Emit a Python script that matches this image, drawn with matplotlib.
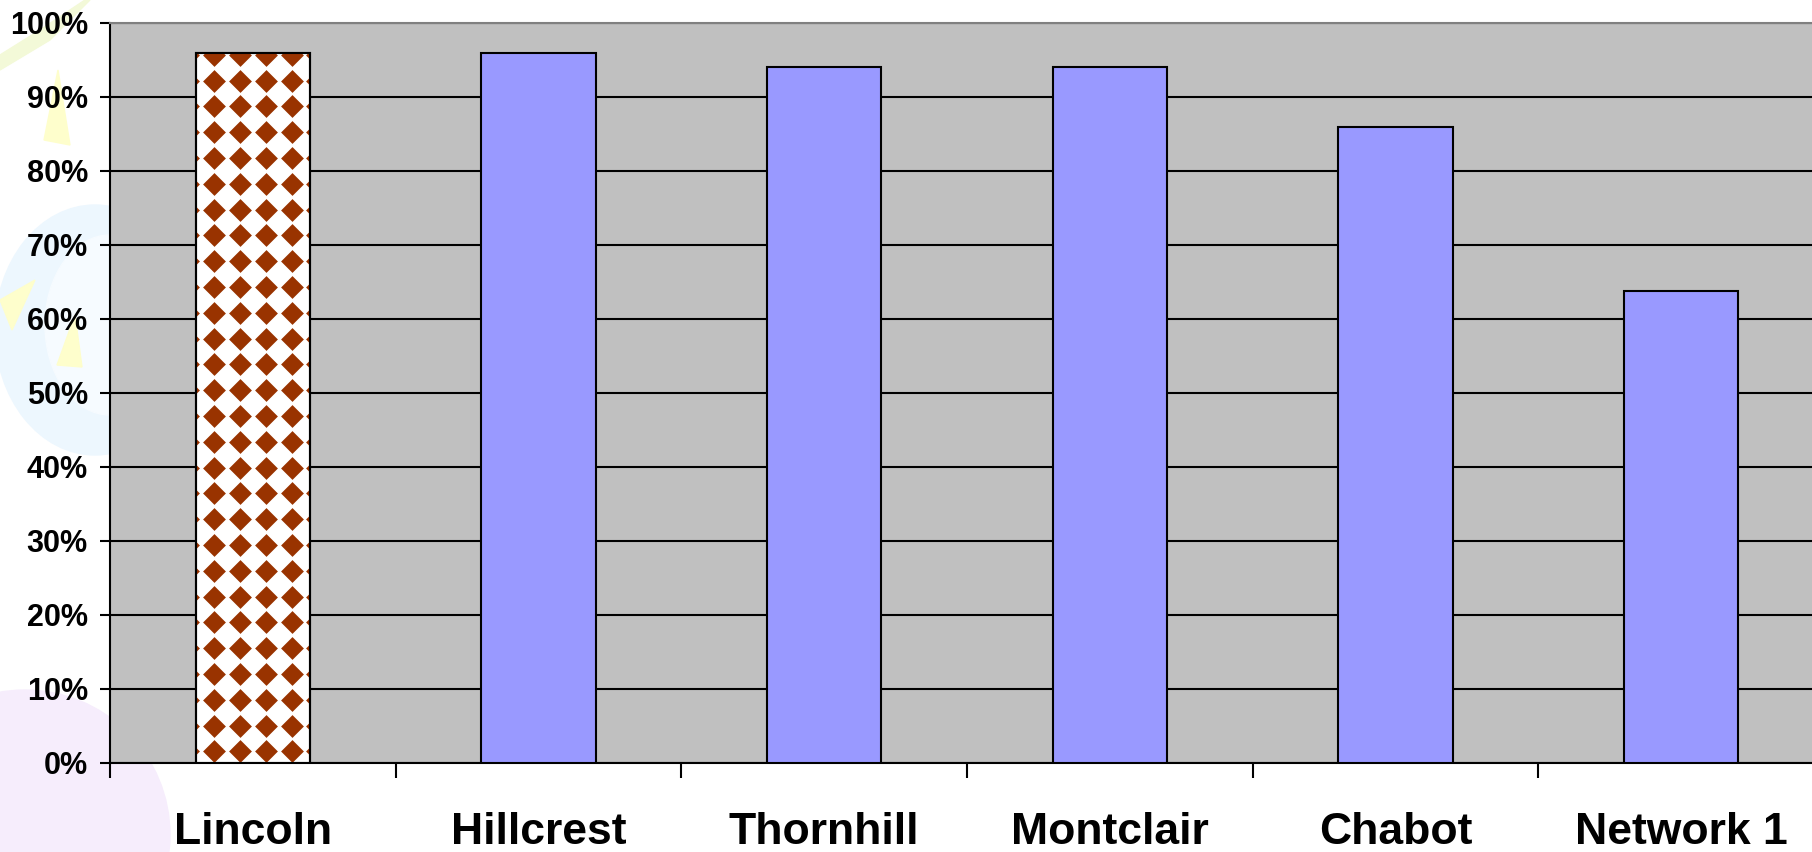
import matplotlib.pyplot as plt
import matplotlib.patches as mpatches
import numpy as np

# data
schools = ['Lincoln', 'Hillcrest', 'Thornhill', 'Montclair', 'Chabot', 'Network 1']
values = [96.0, 96.0, 94.0, 94.0, 86.0, 63.8]
yticks = [0, 10, 20, 30, 40, 50, 60, 70, 80, 90, 100]
ytick_labels = ['%d%%' % v for v in yticks]

plt.rcParams['font.family'] = ['Liberation Sans', 'DejaVu Sans']
plt.rcParams['font.weight'] = 'bold'

W, H = 1812, 852
fig = plt.figure(figsize=(W / 100, H / 100), dpi=100)

# faint slide background art in the left margin (pixel coords -> figure fraction)
def fpts(pts):
    return [(px / W, 1 - py / H) for px, py in pts]

bg = []
bg.append(mpatches.Ellipse((25 / W, 1 - 835 / H), 290 / W, 290 / H, color='#F6EDFC'))
bg.append(mpatches.Ellipse((95 / W, 1 - 330 / H), 200 / W, 250 / H, color='#EDF7FE'))
bg.append(mpatches.Ellipse((110 / W, 1 - 325 / H), 130 / W, 180 / H, color='#F6FBFF'))
bg.append(mpatches.Polygon(fpts([(0, 55), (40, 30), (85, 0), (90, 0), (50, 40), (0, 70)]),
                           color='#F3F9D8'))
for tri in ([(58, 70), (44, 140), (70, 145)],
            [(0, 300), (35, 280), (12, 330)],
            [(75, 315), (57, 365), (82, 367)]):
    bg.append(mpatches.Polygon(fpts(tri), color='#FEFECC'))
for p in bg:
    p.set_transform(fig.transFigure)
    p.set_zorder(-5)
    fig.patches.append(p)

ax = fig.add_axes([110 / W, 89 / H, 1714 / W, 740 / H])
ax.set_facecolor('#C0C0C0')

x = np.arange(len(schools))
colors = ['white'] + ['#9999FF'] * (len(schools) - 1)
bars = ax.bar(x, values, width=0.4, color=colors, edgecolor='black',
              linewidth=1.5, zorder=3)

# diamond pattern inside the first bar, spacing in pixels converted to data units
px_x = 1714 / len(schools)     # pixels per category
px_y = 740 / 100.0             # pixels per percent
step = 25.8
b = bars[0]
cx = b.get_x() + b.get_width() / 2
cols = cx + (np.arange(-3, 3) + 0.5) * step / px_x
rows = (np.arange(0, 40) + 0.45) * step / px_y
rows = rows[rows < b.get_height() + 1.5]
gx, gy = np.meshgrid(cols, rows)
sc = ax.scatter(gx.ravel(), gy.ravel(), marker='D', s=135, color='#993300',
                linewidths=0, zorder=4)
sc.set_clip_path(b)
ax.bar(x[:1], values[:1], width=0.4, color='none', edgecolor='black',
       linewidth=1.5, zorder=5)

ax.set_ylim(0, 100)
ax.set_xlim(-0.5, len(schools) - 0.5)
ax.set_yticks(yticks)
ax.set_yticklabels(ytick_labels, fontsize=22, fontweight='bold')
ax.yaxis.grid(True, color='black', linewidth=1.5, zorder=1)
ax.set_axisbelow(True)

# category boundaries as major ticks, names on minor ticks
ax.set_xticks(np.arange(-0.5, len(schools), 1.0))
ax.set_xticklabels([])
ax.set_xticks(x, minor=True)
ax.set_xticklabels(schools, minor=True, fontsize=32, fontweight='bold')
ax.tick_params(axis='x', which='major', direction='out', length=11, width=1.5)
ax.tick_params(axis='x', which='minor', length=0, pad=35)
ax.tick_params(axis='y', direction='out', length=7, width=1.5, pad=9)

ax.spines['left'].set_linewidth(1.5)
ax.spines['bottom'].set_linewidth(1.5)
ax.spines['top'].set_color('#808080')
ax.spines['top'].set_linewidth(1.5)
ax.spines['right'].set_visible(False)

fig.savefig('out.png', dpi=100)
